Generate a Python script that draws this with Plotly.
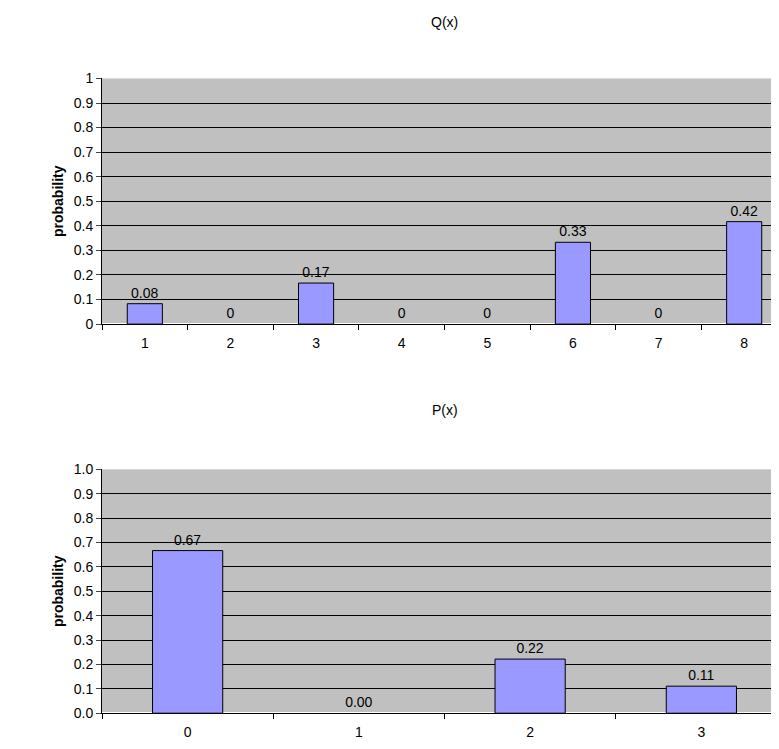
import plotly.graph_objects as go
from plotly.subplots import make_subplots

q_x = ["1", "2", "3", "4", "5", "6", "7", "8"]
q_y = [0.083, 0, 0.167, 0, 0, 0.333, 0, 0.417]
p_x = ["0", "1", "2", "3"]
p_y = [0.667, 0, 0.222, 0.111]

fig = make_subplots(rows=2, cols=1)

def bar(x, y, labels):
    return go.Bar(x=x, y=y, width=0.41, text=labels,
                  marker=dict(color="#9999ff",
                              line=dict(color="black", width=[1 if v else 0 for v in y])),
                  textposition="outside", textfont=dict(size=14, color="black"),
                  cliponaxis=False, showlegend=False)

fig.add_trace(bar(q_x, q_y, [f"{v:.2f}" if v else "0" for v in q_y]), row=1, col=1)
fig.add_trace(bar(p_x, p_y, [f"{v:.2f}" for v in p_y]), row=2, col=1)

fig.update_yaxes(range=[0, 1], dtick=0.1, showgrid=True, gridcolor="black", gridwidth=1,
                 linecolor="black", showline=True, ticks="outside", ticklen=5,
                 tickfont=dict(size=14, color="black"),
                 title=dict(text="<b>probability</b>", font=dict(size=14, color="black"), standoff=6))
fig.update_yaxes(tickformat=".1f", row=2, col=1)
fig.update_xaxes(showline=True, linecolor="black", tickfont=dict(size=14, color="black"),
                 ticks="outside", tickson="boundaries", ticklen=5, tickcolor="black",
                 ticklabelstandoff=6)

fig.update_layout(
    width=779, height=749,
    plot_bgcolor="#c0c0c0", paper_bgcolor="white",
    font=dict(family="Liberation Sans, Arial", color="black"),
    margin=dict(l=94, r=0, t=0, b=0),
    annotations=[
        dict(text="Q(x)", x=0.5, y=1.005, xref="paper", yref="paper", showarrow=False, font=dict(size=14)),
        dict(text="P(x)", x=0.5, y=0.462, xref="paper", yref="paper", showarrow=False, font=dict(size=14)),
    ],
)
fig.update_yaxes(domain=[0.5797, 0.9148], row=1, col=1)
fig.update_yaxes(domain=[0.0488, 0.3815], row=2, col=1)

fig.write_html("out.html")
